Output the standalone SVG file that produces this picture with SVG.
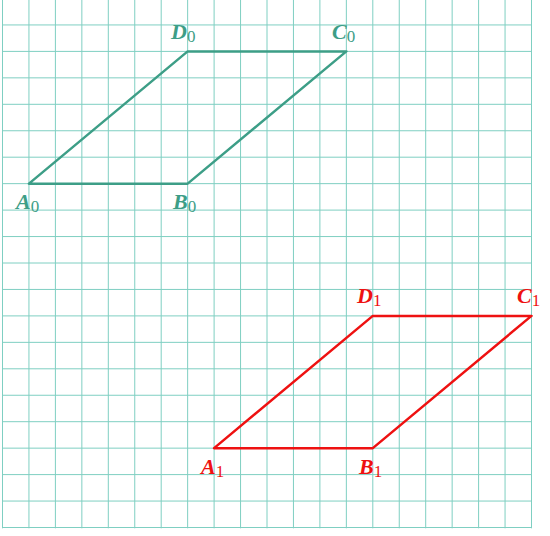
<svg xmlns="http://www.w3.org/2000/svg" width="550" height="536" viewBox="0 0 550 536">
<style>
.grid line{stroke:#7fcfc2;stroke-width:1}
.fig{fill:none;stroke-width:2.5;stroke-linejoin:round}
.g{stroke:#3d9e87}
.r{stroke:#ee1111}
.lbl{font-family:"Liberation Serif",serif;font-size:22px;font-weight:bold;font-style:italic}
.sub{font-size:17px;font-weight:normal;font-style:normal}
.lg{fill:#3d9e87}
.lr{fill:#ee1111}
</style>
<rect width="550" height="536" fill="#ffffff"/>
<g id="grid" class="grid">
<line x1="2.5" y1="0" x2="2.5" y2="528.3"/>
<line x1="28.95" y1="0" x2="28.95" y2="528.3"/>
<line x1="55.4" y1="0" x2="55.4" y2="528.3"/>
<line x1="81.85" y1="0" x2="81.85" y2="528.3"/>
<line x1="108.3" y1="0" x2="108.3" y2="528.3"/>
<line x1="134.75" y1="0" x2="134.75" y2="528.3"/>
<line x1="161.2" y1="0" x2="161.2" y2="528.3"/>
<line x1="187.65" y1="0" x2="187.65" y2="528.3"/>
<line x1="214.1" y1="0" x2="214.1" y2="528.3"/>
<line x1="240.55" y1="0" x2="240.55" y2="528.3"/>
<line x1="267" y1="0" x2="267" y2="528.3"/>
<line x1="293.45" y1="0" x2="293.45" y2="528.3"/>
<line x1="319.9" y1="0" x2="319.9" y2="528.3"/>
<line x1="346.35" y1="0" x2="346.35" y2="528.3"/>
<line x1="372.8" y1="0" x2="372.8" y2="528.3"/>
<line x1="399.25" y1="0" x2="399.25" y2="528.3"/>
<line x1="425.7" y1="0" x2="425.7" y2="528.3"/>
<line x1="452.15" y1="0" x2="452.15" y2="528.3"/>
<line x1="478.6" y1="0" x2="478.6" y2="528.3"/>
<line x1="505.05" y1="0" x2="505.05" y2="528.3"/>
<line x1="531.5" y1="0" x2="531.5" y2="528.3"/>
<line x1="2.5" y1="24.95" x2="531.5" y2="24.95"/>
<line x1="2.5" y1="51.4" x2="531.5" y2="51.4"/>
<line x1="2.5" y1="77.85" x2="531.5" y2="77.85"/>
<line x1="2.5" y1="104.3" x2="531.5" y2="104.3"/>
<line x1="2.5" y1="130.75" x2="531.5" y2="130.75"/>
<line x1="2.5" y1="157.2" x2="531.5" y2="157.2"/>
<line x1="2.5" y1="183.65" x2="531.5" y2="183.65"/>
<line x1="2.5" y1="210.1" x2="531.5" y2="210.1"/>
<line x1="2.5" y1="236.55" x2="531.5" y2="236.55"/>
<line x1="2.5" y1="263" x2="531.5" y2="263"/>
<line x1="2.5" y1="289.45" x2="531.5" y2="289.45"/>
<line x1="2.5" y1="315.9" x2="531.5" y2="315.9"/>
<line x1="2.5" y1="342.35" x2="531.5" y2="342.35"/>
<line x1="2.5" y1="368.8" x2="531.5" y2="368.8"/>
<line x1="2.5" y1="395.25" x2="531.5" y2="395.25"/>
<line x1="2.5" y1="421.7" x2="531.5" y2="421.7"/>
<line x1="2.5" y1="448.15" x2="531.5" y2="448.15"/>
<line x1="2.5" y1="474.6" x2="531.5" y2="474.6"/>
<line x1="2.5" y1="501.05" x2="531.5" y2="501.05"/>
<line x1="2.5" y1="527.5" x2="531.5" y2="527.5"/>
</g>
<g id="connectors">
<polygon id="p0" class="fig g" points="28.95,183.65 187.65,183.65 346.35,51.4 187.65,51.4"/>
<polygon id="p1" class="fig r" points="214.1,448.15 372.8,448.15 531.5,315.9 372.8,315.9"/>
</g>
<g id="A0"><text class="lbl lg" x="16" y="209">A<tspan class="sub" dy="2.5">0</tspan></text></g>
<g id="B0"><text class="lbl lg" x="173" y="209">B<tspan class="sub" dy="2.5">0</tspan></text></g>
<g id="C0"><text class="lbl lg" x="332" y="39">C<tspan class="sub" dy="2.5">0</tspan></text></g>
<g id="D0"><text class="lbl lg" x="171" y="39">D<tspan class="sub" dy="2.5">0</tspan></text></g>
<g id="A1"><text class="lbl lr" x="201" y="474">A<tspan class="sub" dy="2.5">1</tspan></text></g>
<g id="B1"><text class="lbl lr" x="359" y="474">B<tspan class="sub" dy="2.5">1</tspan></text></g>
<g id="C1"><text class="lbl lr" x="517" y="303">C<tspan class="sub" dy="2.5">1</tspan></text></g>
<g id="D1"><text class="lbl lr" x="357" y="303">D<tspan class="sub" dy="2.5">1</tspan></text></g>
</svg>
